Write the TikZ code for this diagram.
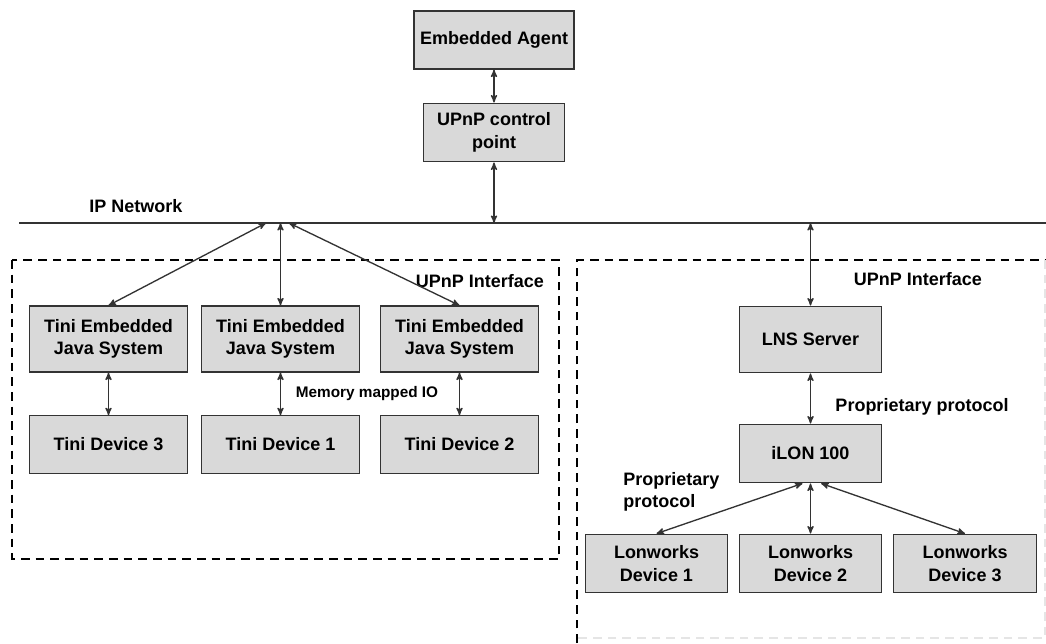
\documentclass[tikz,border=0pt]{standalone}
\usepackage{fontspec}
\setmainfont{Liberation Sans}
\usetikzlibrary{arrows, positioning}

\begin{document}
\begin{tikzpicture}
  [x=0.75pt, y=-0.75pt,
   block/.style={rectangle, draw=black!80, fill=black!15, line width=0.9pt,
                 align=center, inner sep=2pt,
                 font=\fontsize{13.5}{17}\selectfont\bfseries},
   sysblock/.style={minimum width=119pt, minimum height=49.5pt},
   devblock/.style={minimum width=119pt, minimum height=43pt},
   lonblock/.style={minimum width=107pt, minimum height=44pt},
   duo/.style={<->,>=stealth',draw=black!80,line width=1pt},
   network/.style={draw=black!80, line width=1.5pt},
   region/.style={dash pattern=on 6.5pt off 4.5pt, line width=1.4pt},
   note/.style={font=\fontsize{13.5}{17}\selectfont\bfseries, inner sep=0pt}]

  \useasboundingbox (0,0) rectangle (1046,643);

  % Reseau IP
  \coordinate (netW) at (19, 223);
  \coordinate (netE) at (1046, 223);
  \coordinate (tapctrl) at (494, 223);
  \coordinate (tap1) at (266, 223);
  \coordinate (tap2) at (280.5, 223);
  \coordinate (tap3) at (289, 223);
  \coordinate (taplns) at (810.5, 223);
  \draw [network] (netW) -- (netE);
  \node at (136, 206) [note] {IP Network};

  % Agent et point de controle
  \node (agent) at (494, 40) [block, minimum width=120pt, minimum height=43.5pt]
    {Embedded Agent};
  \node (ctrl) at (494, 132.5) [block, minimum width=106pt, minimum height=44pt]
    {UPnP control\\point}
    edge [duo] (agent)
    edge [duo] (tapctrl);

  % Zones UPnP
  \draw [region] (12, 260) rectangle (559, 559);
  \draw [region] (577, 643) -- (577, 260) -- (1046, 260);
  \draw [region, draw=black!10] (1045, 260) -- (1045, 638) -- (577, 638);
  \node at (480, 281) [note] {UPnP Interface};
  \node at (918, 279) [note] {UPnP Interface};

  % Systemes Tini
  \node (sys1) at (108.5, 339) [block, sysblock] {Tini Embedded\\Java System};
  \node (sys2) at (280.5, 339) [block, sysblock] {Tini Embedded\\Java System};
  \node (sys3) at (459.5, 339) [block, sysblock] {Tini Embedded\\Java System};
  \draw [duo] (tap1) -- (sys1.north);
  \draw [duo] (tap2) -- (sys2.north);
  \draw [duo] (tap3) -- (sys3.north);

  \node (dev3) at (108.5, 444.5) [block, devblock] {Tini Device 3}
    edge [duo] (sys1);
  \node (dev1) at (280.5, 444.5) [block, devblock] {Tini Device 1}
    edge [duo] (sys2);
  \node (dev2) at (459.5, 444.5) [block, devblock] {Tini Device 2}
    edge [duo] (sys3);
  \node at (367, 394) [note, font=\fontsize{11.5}{14}\selectfont\bfseries]
    {Memory mapped IO};

  % Cote Lonworks
  \node (lns) at (810.5, 339.5) [block, minimum width=107pt, minimum height=50pt]
    {LNS Server}
    edge [duo] (taplns);
  \node (ilon) at (810.5, 453.5) [block, lonblock] {iLON 100}
    edge [duo] (lns);
  \node at (922, 407) [note] {Proprietary protocol};
  \node at (623, 492) [note, anchor=west, align=left] {Proprietary\\protocol};

  \node (lon1) at (656.5, 563.5) [block, lonblock] {Lonworks\\Device 1};
  \node (lon2) at (810.5, 563.5) [block, lonblock] {Lonworks\\Device 2}
    edge [duo] (ilon);
  \node (lon3) at (965, 563.5) [block, lonblock] {Lonworks\\Device 3};
  \draw [duo] ([xshift=-6pt]ilon.south) -- (lon1.north);
  \draw [duo] ([xshift=8pt]ilon.south) -- (lon3.north);

\end{tikzpicture}
\end{document}
